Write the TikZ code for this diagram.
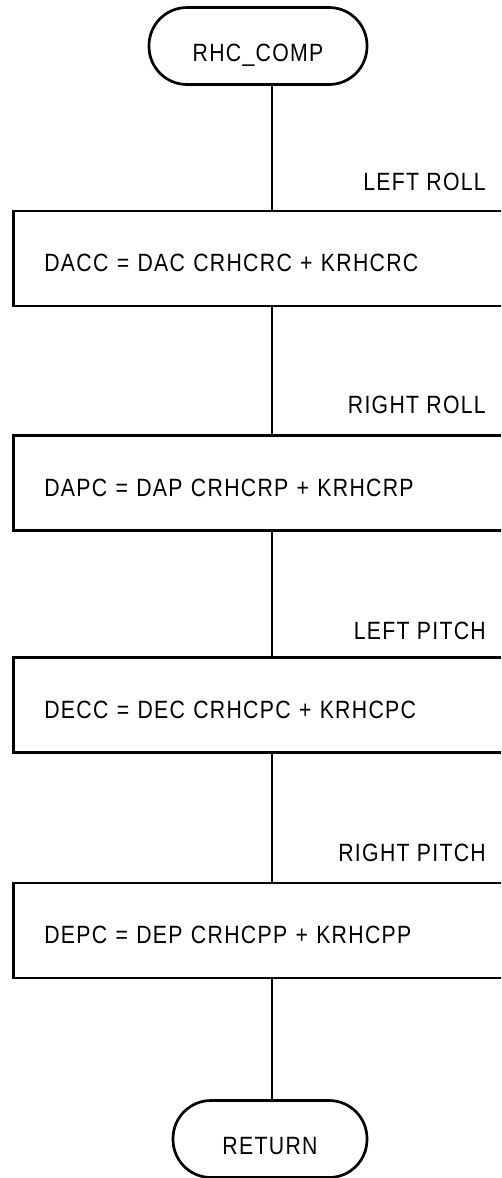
\documentclass[tikz,border=0pt]{standalone}
\usepackage{fontspec}
\setmainfont{Liberation Sans}[FakeStretch=0.85, LetterSpace=5.2]
\usetikzlibrary{positioning}
\tikzstyle{term} = [draw, line width=2.7pt, rounded corners=38pt, minimum height=77pt, inner sep=0pt, text height=30pt, text depth=0pt]
\tikzstyle{proc} = [draw, line width=2.7pt, minimum height=95pt, text width=458pt, inner xsep=31pt, inner ysep=0pt, align=left, anchor=west, text height=26pt, text depth=0pt]
\tikzstyle{lbl} = [anchor=east, inner sep=0pt]
\tikzstyle{flow} = [line width=2.7pt]

\begin{document}
\begin{tikzpicture}[x=1pt, y=-1pt, font=\fontsize{25}{29}\selectfont]
\useasboundingbox (0,0) rectangle (501,1178);
\clip (0,0) rectangle (501,1178);
\coordinate (spine) at (272,0);
\node[term, minimum width=218pt] (start) at (258,46) {RHC\_COMP};
\node[proc] (dacc) at (12,258.5) {DACC = DAC CRHCRC + KRHCRC};
\node[proc] (dapc) at (12,483) {DAPC = DAP CRHCRP + KRHCRP};
\node[proc] (decc) at (12,705) {DECC = DEC CRHCPC + KRHCPC};
\node[proc] (depc) at (12,930.5) {DEPC = DEP CRHCPP + KRHCPP};
\node[term, minimum width=194pt] (stop) at (270,1139) {RETURN};
% branch labels
\node[lbl] (lroll) at (486,182) {LEFT ROLL};
\node[lbl] (rroll) at (486,405) {RIGHT ROLL};
\node[lbl] (lpitch) at (486,631) {LEFT PITCH};
\node[lbl] (rpitch) at (486,853) {RIGHT PITCH};
% flow lines
\draw[flow] (start.south -| spine) -- (dacc.north -| spine);
\draw[flow] (dacc.south -| spine) -- (dapc.north -| spine);
\draw[flow] (dapc.south -| spine) -- (decc.north -| spine);
\draw[flow] (decc.south -| spine) -- (depc.north -| spine);
\draw[flow] (depc.south -| spine) -- (stop.north -| spine);
\end{tikzpicture}
\end{document}
